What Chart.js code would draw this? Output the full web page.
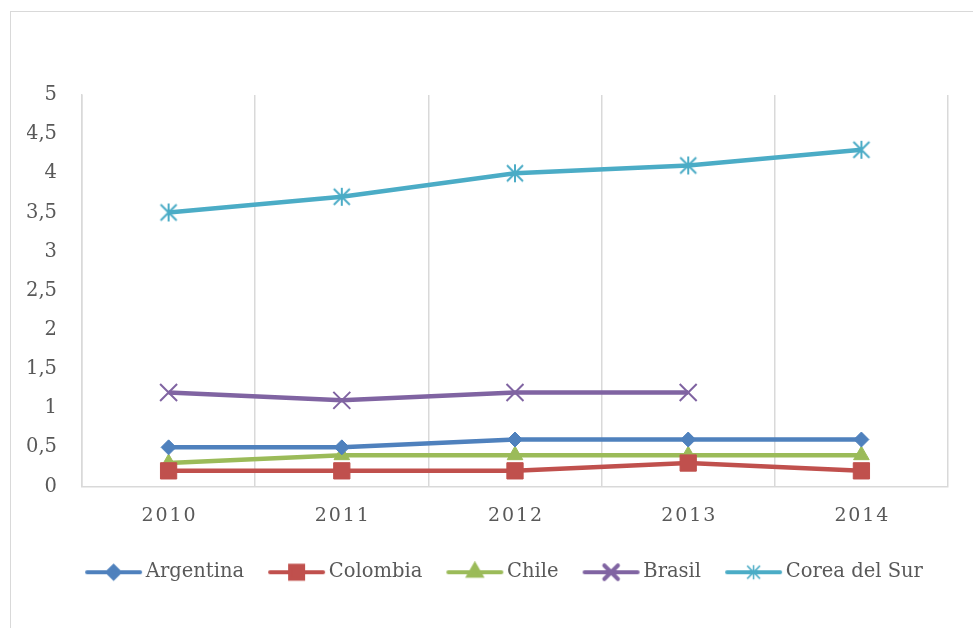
<!DOCTYPE html>
<html>
<head>
<meta charset="utf-8">
<script src="https://cdn.jsdelivr.net/npm/chart.js@4.4.1/dist/chart.umd.min.js"></script>
<style>
  body { margin: 0; background: #fff; }
  #wrap { position: relative; width: 973px; height: 628px; overflow: hidden; }
  #frame { position: absolute; left: 10px; top: 11px; width: 1000px; height: 700px; border: 1px solid #d9d9d9; }
  #chart { position: absolute; left: 0; top: 0; }
</style>
</head>
<body>
<div id="wrap">
  <div id="frame"></div>
  <canvas id="chart" width="973" height="628"></canvas>
</div>
<script>
const years = ['2010', '2011', '2012', '2013', '2014'];
const argentina = [0.5, 0.5, 0.6, 0.6, 0.6];
const colombia = [0.2, 0.2, 0.2, 0.3, 0.2];
const chile = [0.3, 0.4, 0.4, 0.4, 0.4];
const brasil = [1.2, 1.1, 1.2, 1.2, null];
const coreaDelSur = [3.5, 3.7, 4.0, 4.1, 4.3];

const FONT = "'DejaVu Serif', serif";
const TEXT = '#595959';

// asterisco estilo Excel: línea vertical + X
function starIcon(color) {
    const c = document.createElement('canvas');
    c.width = 20; c.height = 20;
    const g = c.getContext('2d');
    g.strokeStyle = color;
    g.lineWidth = 2;
    g.beginPath();
    g.moveTo(10, 1); g.lineTo(10, 19);
    g.moveTo(2, 2); g.lineTo(18, 18);
    g.moveTo(18, 2); g.lineTo(2, 18);
    g.stroke();
    return c;
}

const series = [
    { label: 'Argentina', data: argentina, color: '#4f81bd', style: 'rectRot', radius: 7.5, bw: 1 },
    { label: 'Colombia', data: colombia, color: '#c0504d', style: 'rect', radius: 11.5, bw: 1 },
    { label: 'Chile', data: chile, color: '#9bbb59', style: 'triangle', radius: 9, bw: 1 },
    { label: 'Brasil', data: brasil, color: '#8064a2', style: 'crossRot', radius: 12, bw: 2 },
    { label: 'Corea del Sur', data: coreaDelSur, color: '#4bacc6', style: starIcon('#4bacc6'), radius: 9, bw: 2 }
];

// icono de leyenda: línea + marcador
function legendIcon(s) {
    const c = document.createElement('canvas');
    c.width = 64; c.height = 22;
    const g = c.getContext('2d');
    g.strokeStyle = s.color;
    g.fillStyle = s.color;
    g.lineWidth = 4;
    g.lineCap = 'round';
    g.beginPath();
    g.moveTo(8, 11); g.lineTo(61, 11);
    g.stroke();
    if (typeof s.style === 'string') {
        Chart.helpers.drawPoint(g, { pointStyle: s.style, radius: s.radius * 0.8, rotation: 0, borderWidth: s.bw }, 34.5, 11);
    } else {
        g.drawImage(s.style, 34.5 - 8, 3, 16, 16);
    }
    return c;
}
const icons = series.map(legendIcon);

// la leyenda del original está algo desplazada a la derecha
const shiftLegend = {
    id: 'shiftLegend',
    afterLayout(chart) { chart.legend.left += 17; chart.legend.right += 17; }
};

new Chart(document.getElementById('chart'), {
    type: 'line',
    data: {
        labels: years,
        datasets: series.map(s => ({
            label: s.label,
            data: s.data,
            borderColor: s.color,
            backgroundColor: s.color,
            borderWidth: 4.5,
            pointStyle: s.style,
            pointRadius: s.radius,
            pointBorderWidth: s.bw,
            pointBackgroundColor: s.color,
            pointBorderColor: s.color,
            tension: 0,
            spanGaps: false
        }))
    },
    plugins: [shiftLegend],
    options: {
        responsive: false,
        animation: false,
        layout: { padding: { left: 27, right: 25, top: 95, bottom: 36 } },
        plugins: {
            legend: {
                position: 'bottom',
                labels: {
                    usePointStyle: true,
                    pointStyleWidth: 50,
                    boxHeight: 19,
                    padding: 25,
                    color: TEXT,
                    font: { family: FONT, size: 19.5 },
                    generateLabels(chart) {
                        const items = Chart.defaults.plugins.legend.labels.generateLabels(chart);
                        items.forEach((it, i) => { it.pointStyle = icons[i]; });
                        return items;
                    }
                }
            },
            tooltip: { enabled: false }
        },
        scales: {
            x: {
                offset: true,
                grid: { offset: true, color: '#d9d9d9', lineWidth: 1.5, drawTicks: false },
                border: { color: '#d9d9d9', width: 1.5 },
                ticks: {
                    color: TEXT,
                    padding: 18,
                    font: { family: FONT, size: 19 },
                    callback(v) { return this.getLabelForValue(v).split('').join('\u200A'); }
                },
                afterFit(scale) { scale.height = 51; }
            },
            y: {
                min: 0,
                max: 5,
                grid: { display: false, drawTicks: false },
                border: { color: '#d9d9d9', width: 1.5 },
                ticks: {
                    stepSize: 0.5,
                    color: TEXT,
                    padding: 25,
                    font: { family: FONT, size: 19.5 },
                    callback: v => String(v).replace('.', ',')
                },
                afterFit(scale) { scale.width = 55; }
            }
        }
    }
});
</script>
</body>
</html>
